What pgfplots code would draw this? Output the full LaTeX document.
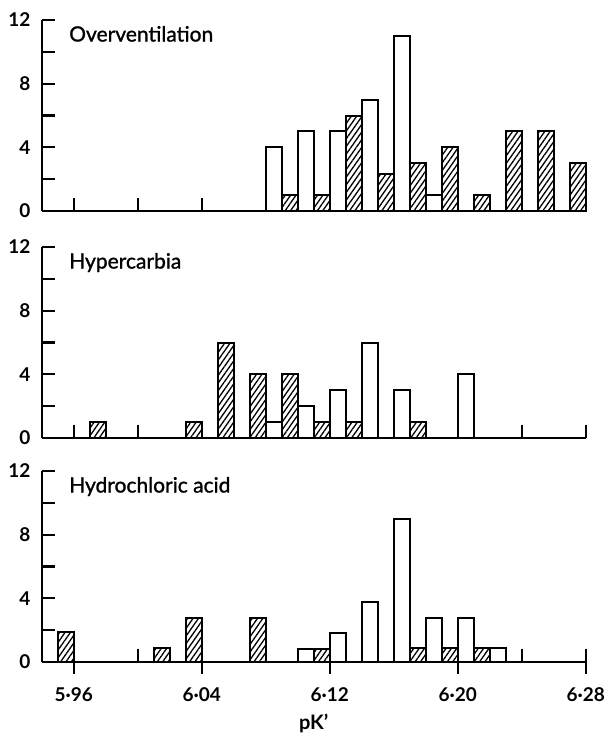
\documentclass[border=0pt]{standalone}
\usepackage{pgfplots}
\pgfplotsset{compat=1.18}
\usetikzlibrary{patterns.meta}
\usepackage{fontspec}
\setmainfont{Lato}
\newfontfamily\ttlfont[FakeBold=1.2]{Lato}

\tikzset{ttl/.style={anchor=base west, font=\fontsize{21}{21}\ttlfont, xshift=24pt, yshift=-21.5pt}}
\pgfplotsset{
  panel/.style={
    scale only axis, width=544pt, height=191pt,
    xmin=5.94, xmax=6.28, ymin=0, ymax=12,
    axis x line=bottom, axis y line=left,
    axis line style={-, line width=2.2pt, black},
    clip=false,
    ytick={0,2,4,6,8,10,12}, yticklabels={0,,4,,8,,12},
    xtick={5.96,6.00,6.04,6.08,6.12,6.16,6.20,6.24,6.28},
    xticklabels={},
    tick align=inside,
    major tick length=13pt,
    every tick/.style={black, line width=2.2pt},
    yticklabel style={font=\fontsize{19}{19}\selectfont\bfseries, inner sep=0pt, xshift=-11pt},
    xticklabel style={font=\fontsize{19}{19}\selectfont\bfseries, inner sep=0pt},
  },
  open/.style={ybar, bar width=0.01, bar shift=0pt, draw=black, line width=2pt, fill=white},
  hatch/.style={ybar, bar width=0.01, bar shift=0pt, draw=black, line width=2pt, fill=white,
     postaction={pattern={Lines[angle=55,distance=4.4pt,line width=1.3pt]}}},
}

\begin{document}
\begin{tikzpicture}
\path[use as bounding box] (-41.7pt,-733pt) rectangle (566.3pt,0pt);

% Overventilation
\begin{axis}[panel, at={(0pt,-211pt)}, anchor=south west]
\addplot[open] coordinates {(6.085,4) (6.105,5) (6.125,5) (6.145,7) (6.165,11) (6.185,1)};
\addplot[hatch] coordinates {(6.095,1) (6.115,1) (6.135,6) (6.155,2.3) (6.175,3) (6.195,4) (6.215,1) (6.235,5) (6.255,5) (6.275,3)};
\node[ttl] at (rel axis cs:0,1) {Overventilation};
\end{axis}

% Hypercarbia
\begin{axis}[panel, at={(0pt,-438pt)}, anchor=south west]
\addplot[hatch] coordinates {(5.975,1) (6.035,1) (6.055,6) (6.075,4) (6.095,4) (6.115,1) (6.135,1) (6.175,1)};
\addplot[open] coordinates {(6.085,1) (6.105,2) (6.125,3) (6.145,6) (6.165,3) (6.205,4)};
\node[ttl] at (rel axis cs:0,1) {Hypercarbia};
\end{axis}

% Hydrochloric acid
\begin{axis}[panel, at={(0pt,-662pt)}, anchor=south west,
  extra x ticks={5.96,6.04,6.12,6.20,6.28},
  extra x tick labels={5·96,6·04,6·12,6·20,6·28},
  extra x tick style={tick align=outside, major tick length=12pt},
  xticklabel style={yshift=-13pt}]
\addplot[hatch] coordinates {(5.955,1.9) (6.015,0.85) (6.035,2.75) (6.075,2.75) (6.115,0.8) (6.175,0.85) (6.195,0.85) (6.215,0.85)};
\addplot[open] coordinates {(6.105,0.8) (6.125,1.85) (6.145,3.8) (6.165,9.0) (6.185,2.75) (6.205,2.75) (6.225,0.85)};
\node[ttl] at (rel axis cs:0,1) {Hydrochloric acid};
\node[anchor=base, font=\fontsize{20}{20}\selectfont\bfseries, yshift=-67pt] at (rel axis cs:0.5,0) {pK’};
\end{axis}
\end{tikzpicture}
\end{document}
